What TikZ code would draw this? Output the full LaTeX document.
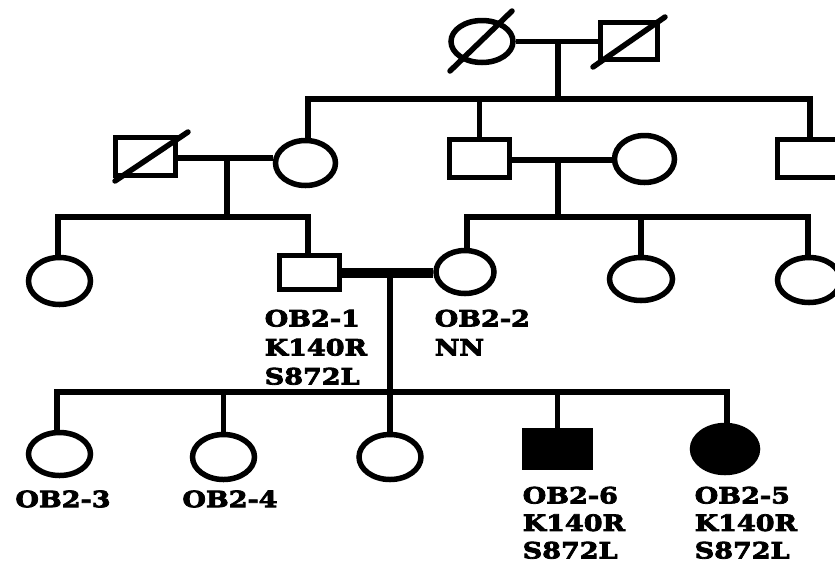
\documentclass[tikz,border=0pt]{standalone}
\usepackage{fontspec}
\newfontfamily\labfont{DejaVu Serif}[FakeStretch=1.2, BoldFeatures={FakeBold=3.5}]
\usetikzlibrary{shapes.geometric}
\begin{document}
\begin{tikzpicture}[x=1pt,y=-1pt, line width=5.5pt, line join=miter,
  fem/.style={draw, ellipse, inner sep=0pt},
  mal/.style={draw, rectangle, inner sep=0pt},
  dead/.style={line width=5.5pt, line cap=round},
  wed/.style={line width=10pt},
  lab/.style={font=\labfont\bfseries\fontsize{22.5}{29}\selectfont, inner sep=0pt, align=left},
  labb/.style={font=\labfont\bfseries\fontsize{22.5}{27.5}\selectfont, inner sep=0pt, align=left}]
\useasboundingbox[fill=white] (0,0) rectangle (835,566);
\clip (0,0) rectangle (835,566);
% Generation I
\node[fem, minimum width=62, minimum height=42] (g1f) at (482,41.5) {};
\node[mal, minimum width=57, minimum height=37] (g1m) at (629,41) {};
\draw[dead] (450,71) -- (512,11);
\draw[dead] (593,67) -- (665,17);
\draw (g1f.east) -- (g1f.east -| g1m.west);
\coordinate (d1) at (558,42);
\coordinate (s1) at (558,99);
\draw (d1) -- (s1);
% Generation II
\node[mal, minimum width=60, minimum height=38] (g2a) at (145.5,156.5) {};
\node[fem, minimum width=60, minimum height=45] (g2b) at (305.5,163) {};
\node[mal, minimum width=60, minimum height=38] (g2c) at (479.5,158.5) {};
\node[fem, minimum width=60, minimum height=47] (g2d) at (644.5,159) {};
\node[mal, minimum width=60, minimum height=38] (g2e) at (807.5,158.5) {};
\draw[dead] (115,181) -- (188,132);
\coordinate (s1L) at (308,99);
\coordinate (s1R) at (810,99);
\draw (s1L |- g2b.north) -- (s1L) -- (s1R) -- (s1R |- g2e.north);
\draw (g2c.north) -- (g2c.north |- s1);
\coordinate (m2a) at (227,158);
\coordinate (m2b) at (558,160);
\draw (m2a -| g2a.east) -- (m2a -| g2b.west);
\draw (m2b -| g2c.east) -- (m2b -| g2d.west);
% Generation III
\node[fem, minimum width=62, minimum height=47] (g3a) at (59.5,281) {};
\node[mal, minimum width=60, minimum height=34] (g3b) at (309.5,272.5) {};
\node[fem, minimum width=58, minimum height=43] (g3c) at (465,272) {};
\node[fem, minimum width=63, minimum height=43] (g3d) at (641,279) {};
\node[fem, minimum width=63, minimum height=45] (g3e) at (809,280) {};
\coordinate (s2L) at (58,217);
\coordinate (s2R) at (308,217);
\coordinate (s3L) at (467,217);
\coordinate (s3R) at (808,217);
\draw (m2a) -- (m2a |- s2L);
\draw (m2b) -- (m2b |- s3L);
\draw (s2L |- g3a.north) -- (s2L) -- (s2R) -- (s2R |- g3b.north);
\draw (s3L |- g3c.north) -- (s3L) -- (s3R) -- (s3R |- g3e.north);
\draw (g3d.north) -- (g3d.north |- s3L);
\draw[wed] (g3b.east) -- (g3b.east -| g3c.west);
\coordinate (m3) at (390,272);
% Generation IV
\node[fem, minimum width=62, minimum height=43] (g4a) at (59.5,454) {};
\node[fem, minimum width=62, minimum height=45] (g4b) at (223.5,457) {};
\node[fem, minimum width=62, minimum height=45] (g4c) at (390,457) {};
\node[mal, fill=black, minimum width=66, minimum height=37] (g4d) at (557.5,449) {};
\node[fem, fill=black, minimum width=65, minimum height=47] (g4e) at (725,449) {};
\coordinate (s4L) at (57,392);
\coordinate (s4R) at (727,392);
\draw (s4L |- g4a.north) -- (s4L) -- (s4R) -- (s4R |- g4e.north);
\draw (m3) -- (g4c.north);
\draw (g4b.north) -- (g4b.north |- s4L);
\draw (g4d.north) -- (g4d.north |- s4L);
% Labels
\node[lab, anchor=north west] (l1) at (262,307) {OB2-1\\K140R\\S872L};
\node[lab, anchor=north west] (l2) at (432,307) {OB2-2\\NN};
\node[lab] (l3) at (63,499) {OB2-3};
\node[lab] (l4) at (230,499) {OB2-4};
\node[labb, anchor=north west] (l6) at (520,484) {OB2-6\\K140R\\S872L};
\node[labb, anchor=north west] (l5) at (692,484) {OB2-5\\K140R\\S872L};
\end{tikzpicture}
\end{document}
